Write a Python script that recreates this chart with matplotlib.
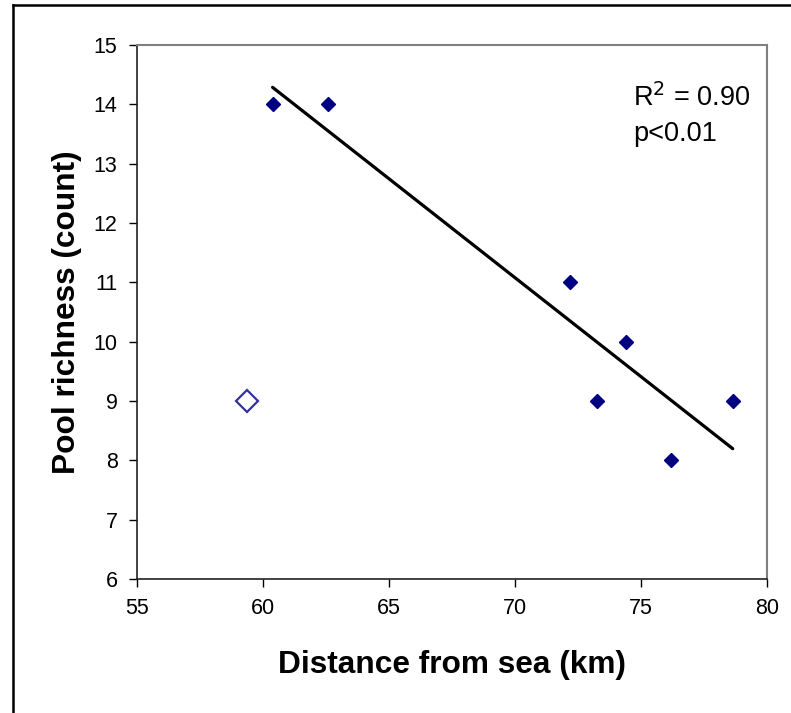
#!/usr/bin/env python3
import numpy as np
import matplotlib
matplotlib.use("Agg")
import matplotlib.pyplot as plt
from matplotlib.lines import Line2D

plt.rcParams['font.family'] = ['Liberation Sans', 'DejaVu Sans']

# pools used in the regression
distance = [60.38, 62.58, 72.18, 73.27, 74.40, 76.18, 78.64]
richness = [14, 14, 11, 9, 10, 8, 9]
# excluded pool (open symbol)
outlier_distance = [59.35]
outlier_richness = [9]

x_ticks = [55, 60, 65, 70, 75, 80]
y_ticks = [6, 7, 8, 9, 10, 11, 12, 13, 14, 15]


def create_plot():
    fig = plt.figure(figsize=(7.91, 7.13), dpi=100)
    ax = fig.add_axes([0.1732, 0.1879, 0.7965, 0.749])

    # fitted trend line over the range of the used pools
    slope, intercept = np.polyfit(distance, richness, 1)
    xs = np.array([min(distance), max(distance)])
    ax.plot(xs, slope * xs + intercept, color='black', linewidth=2.3,
            solid_capstyle='round', zorder=2)

    ax.plot(distance, richness, linestyle='None', marker='D',
            markersize=6.8, color='#000080', zorder=3)
    ax.plot(outlier_distance, outlier_richness, linestyle='None', marker='D',
            markersize=11, markerfacecolor='white', markeredgecolor='#333399',
            markeredgewidth=1.6, zorder=3)

    ax.set_xlim(55, 80)
    ax.set_ylim(6, 15)
    ax.set_xticks(x_ticks)
    ax.set_yticks(y_ticks)
    ax.tick_params(direction='out', length=6, width=1, labelsize=15.5,
                   pad=8, colors='black')

    for side in ['top', 'right']:
        ax.spines[side].set_color('#808080')
        ax.spines[side].set_linewidth(1.5)
    for side in ['left', 'bottom']:
        ax.spines[side].set_color('#222222')
        ax.spines[side].set_linewidth(1.2)

    ax.set_xlabel("Distance from sea (km)", fontsize=22.8, fontweight='bold',
                  labelpad=22)
    ax.set_ylabel("Pool richness (count)", fontsize=22.8, fontweight='bold',
                  labelpad=8)

    ax.text(0.787, 0.902, "R$^2$ = 0.90", transform=ax.transAxes,
            fontsize=19.5, ha='left', va='center')
    ax.text(0.787, 0.833, "p<0.01", transform=ax.transAxes,
            fontsize=19.5, ha='left', va='center')

    # outer chart border (left and top edges visible)
    fig.add_artist(Line2D([0.0164, 0.0164], [0.0, 0.993], color='black',
                          linewidth=1.8, transform=fig.transFigure))
    fig.add_artist(Line2D([0.0164, 1.0], [0.993, 0.993], color='black',
                          linewidth=1.8, transform=fig.transFigure))

    fig.savefig("out.png", dpi=100)


if __name__ == "__main__":
    create_plot()
